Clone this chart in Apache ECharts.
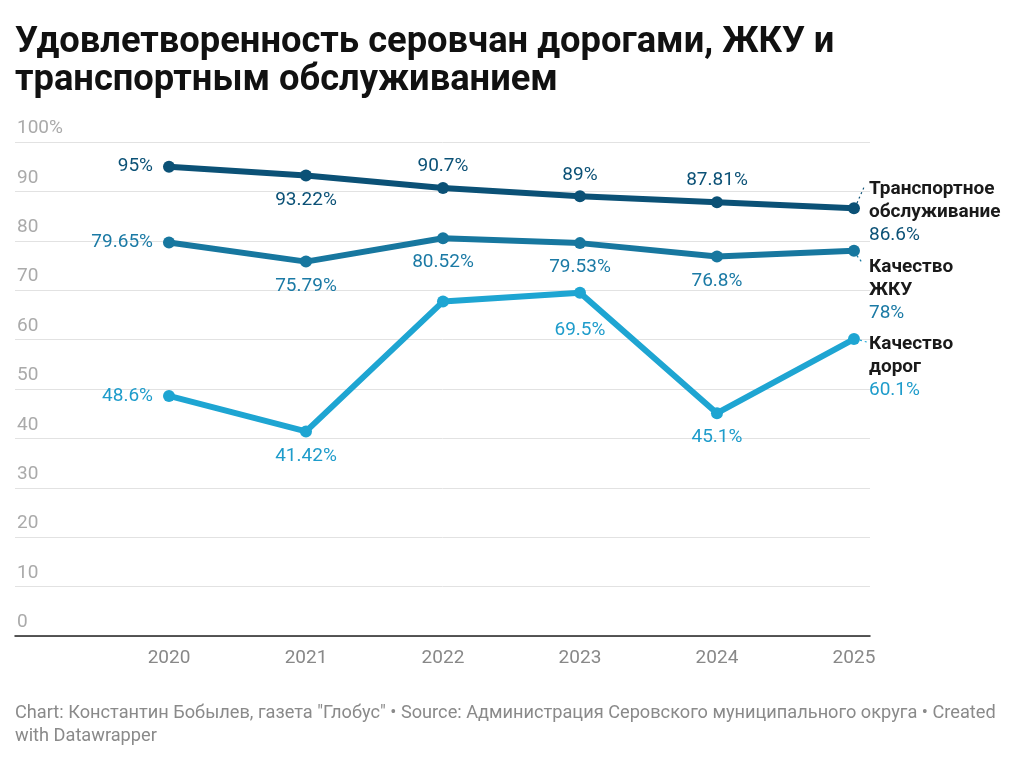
<!DOCTYPE html>
<html>
<head>
<meta charset="utf-8">
<script src="https://cdn.jsdelivr.net/npm/echarts@6/dist/echarts.min.js"></script>
<style>
  html, body { margin: 0; padding: 0; background: #fff; }
  #main { width: 1024px; height: 763px; }
</style>
</head>
<body>
<div id="main"></div>
<script>
var years = [2020, 2021, 2022, 2023, 2024, 2025];
var transport = [95, 93.22, 90.7, 89, 87.81, 86.6];
var housing = [79.65, 75.79, 80.52, 79.53, 76.8, 78];
var roads = [48.6, 41.42, 67.7, 69.5, 45.1, 60.1];
var yTicks = [0, 10, 20, 30, 40, 50, 60, 70, 80, 90, 100];

var font = 'Roboto';
var myChart = echarts.init(document.getElementById('main'));

// where each point label goes (null = hidden, 'end' = right-hand label)
var transportPos = ['left', 'bottom', 'top', 'top', 'top', 'end'];
var housingPos = ['left', 'bottom', 'bottom', 'bottom', 'bottom', 'end'];
var roadsPos = ['left', 'bottom', null, 'bottom2', 'bottom', 'end'];

function makeData(values, pos, color, name) {
  return values.map(function (v, i) {
    var p = pos[i];
    var item = { value: [years[i], v] };
    if (p === null) {
      item.label = { show: false };
    } else if (p === 'end') {
      item.label = {
        show: true,
        position: 'right',
        distance: 9,
        formatter: '{n|' + name + '}\n{v|' + v + '%}',
        rich: {
          n: { fontFamily: font, fontSize: 19, fontWeight: 'bold', color: '#1a1a1a', lineHeight: 23 },
          v: { fontFamily: font, fontSize: 19, color: color, lineHeight: 23 }
        }
      };
    } else if (p === 'bottom2') {
      item.label = { show: true, position: 'bottom', distance: 22 };
    } else {
      item.label = { show: true, position: p, distance: p === 'left' ? 10 : (p === 'top' ? 6 : 9) };
    }
    return item;
  });
}

function lineSeries(name, label, values, pos, color, textColor, shiftY) {
  return {
    name: name,
    type: 'line',
    data: makeData(values, pos, textColor, label),
    symbol: 'circle',
    symbolSize: 12,
    lineStyle: { width: 6, color: color },
    itemStyle: { color: color },
    label: {
      show: true,
      fontFamily: font,
      fontSize: 19,
      color: textColor,
      formatter: function (p) { return p.value[1] + '%'; }
    },
    labelLayout: function (p) {
      if (p.dataIndex === values.length - 1) {
        return { dy: shiftY };
      }
    },
    emphasis: { disabled: true },
    z: 3
  };
}

var option = {
  animation: false,
  title: [{
    text: 'Удовлетворенность серовчан дорогами, ЖКУ и\nтранспортным обслуживанием',
    left: 15,
    top: 24,
    padding: 0,
    textStyle: { fontFamily: font, fontSize: 36.3, fontWeight: 'bold', color: '#111', lineHeight: 38 }
  }, {
    text: 'Chart: Константин Бобылев, газета "Глобус" • Source: Администрация Серовского муниципального округа • Created\nwith Datawrapper',
    left: 15,
    top: 702,
    padding: 0,
    textStyle: { fontFamily: font, fontSize: 18.2, fontWeight: 'normal', color: '#8a8a8a', lineHeight: 23 }
  }],
  grid: { left: 15, right: 154, top: 142, bottom: 127 },
  xAxis: {
    type: 'value',
    min: 2018.876,
    max: 2025.117,
    axisLine: { show: true, lineStyle: { color: '#222', width: 1.5 } },
    axisTick: { show: false },
    splitLine: { show: false },
    axisLabel: {
      customValues: years,
      fontFamily: font,
      fontSize: 19,
      color: '#888',
      margin: 13,
      formatter: function (v) { return String(v); }
    }
  },
  yAxis: {
    type: 'value',
    min: 0,
    max: 100,
    interval: 10,
    axisLine: { show: false },
    axisTick: { show: false },
    splitLine: { lineStyle: { color: '#e2e2e2', width: 1 } },
    axisLabel: {
      inside: true,
      verticalAlign: 'bottom',
      margin: 2,
      padding: [0, 0, 4, 0],
      fontFamily: font,
      fontSize: 19,
      color: '#aaa',
      customValues: yTicks,
      formatter: function (v) { return v === 100 ? '100%' : String(v); }
    }
  },
  series: [
    lineSeries('transport', 'Транспортное\nобслуживание', transport, transportPos, '#0b5176', '#0b5176', 4),
    lineSeries('housing', 'Качество\nЖКУ', housing, housingPos, '#17779f', '#1b7aa5', 40),
    lineSeries('roads', 'Качество\nдорог', roads, roadsPos, '#1ea5d2', '#1e9ccb', 28)
  ]
};
myChart.setOption(option);

// short dotted leader lines from the last points to the right-hand labels
var leaders = [
  { v: transport, color: '#0b5176', a: [3, -5], b: [10, -21] },
  { v: housing, color: '#17779f', a: [3, 5], b: [9, 13] },
  { v: roads, color: '#1ea5d2', a: [6, 1], b: [13, 3] }
];
var last = years.length - 1;
myChart.setOption({
  graphic: leaders.map(function (l) {
    var pt = myChart.convertToPixel({ gridIndex: 0 }, [years[last], l.v[last]]);
    return {
      type: 'line',
      shape: { x1: pt[0] + l.a[0], y1: pt[1] + l.a[1], x2: pt[0] + l.b[0], y2: pt[1] + l.b[1] },
      style: { stroke: l.color, lineWidth: 1.2, lineDash: [2, 3] },
      silent: true,
      z: 10
    };
  })
});
</script>
</body>
</html>
